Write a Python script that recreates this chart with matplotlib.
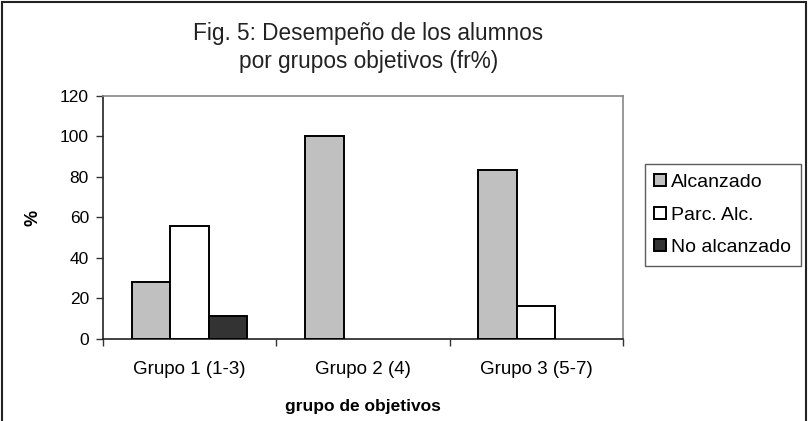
import numpy as np
import matplotlib.pyplot as plt
from matplotlib.patches import Rectangle

plt.rcParams['font.family'] = ['Liberation Sans', 'DejaVu Sans']

categories = ['Grupo 1 (1-3)', 'Grupo 2 (4)', 'Grupo 3 (5-7)']
series_names = ['Alcanzado', 'Parc. Alc.', 'No alcanzado']
alcanzado = [28, 100, 83.5]
parcial = [56, 0, 16.5]
no_alcanzado = [11.5, 0, 0]
colors = ['#c0c0c0', '#ffffff', '#333333']

fig = plt.figure(figsize=(8.10, 4.21), dpi=100)
ax = fig.add_axes([0.127, 0.195, 0.642, 0.577])

x = np.arange(len(categories))
w = 0.222
for i, (vals, col, name) in enumerate(zip([alcanzado, parcial, no_alcanzado], colors, series_names)):
    vals = np.array(vals, dtype=float)
    # zero values get no visible bar (as in the original)
    lw = np.where(vals > 0, 1.4, 0.0)
    ax.bar(x + (i - 1) * w, vals, width=w, color=col, edgecolor='black',
           linewidth=lw, label=name, zorder=3)

ax.set_xlim(-0.5, 2.5)
ax.set_ylim(0, 120)
ax.set_yticks(range(0, 121, 20))
ax.set_xticks(np.arange(-0.5, 3, 1))
ax.set_xticklabels([])
ax.set_xticks(x, minor=True)
ax.set_xticklabels(categories, minor=True)
ax.tick_params(axis='x', which='minor', length=0, pad=16, labelsize=13.5)
ax.tick_params(axis='x', which='major', length=5, width=1, color='#333333')
ax.tick_params(axis='y', length=5, width=1, color='#333333', labelsize=12.5, pad=5)

for s in ['left', 'bottom']:
    ax.spines[s].set_color('#222222')
    ax.spines[s].set_linewidth(1.2)
for s in ['top', 'right']:
    ax.spines[s].set_color('#888888')
    ax.spines[s].set_linewidth(1.2)

ax.set_xlabel('grupo de objetivos', fontsize=12.5, fontweight='bold', labelpad=15)
ax.set_ylabel('%', fontsize=13, fontweight='bold', labelpad=13)

fig.text(0.455, 0.92, 'Fig. 5: Desempeño de los alumnos', ha='center', va='center', fontsize=16.3, color='#222222')
fig.text(0.455, 0.854, 'por grupos objetivos (fr%)', ha='center', va='center', fontsize=16.3, color='#222222')

leg = ax.legend(loc='center left', bbox_to_anchor=(1.042, 0.51), frameon=True, fancybox=False,
                fontsize=14, handlelength=0.6, handleheight=0.6, handletextpad=0.25,
                labelspacing=0.8, borderpad=0.5, borderaxespad=0, edgecolor='#333333')
leg.get_frame().set_linewidth(1.0)

# outer border of the figure
fig.patches.append(Rectangle((0.002, -0.01), 0.993, 1.005, transform=fig.transFigure,
                             fill=False, edgecolor='#222222', linewidth=1.5))

fig.savefig('out.png', dpi=100)
